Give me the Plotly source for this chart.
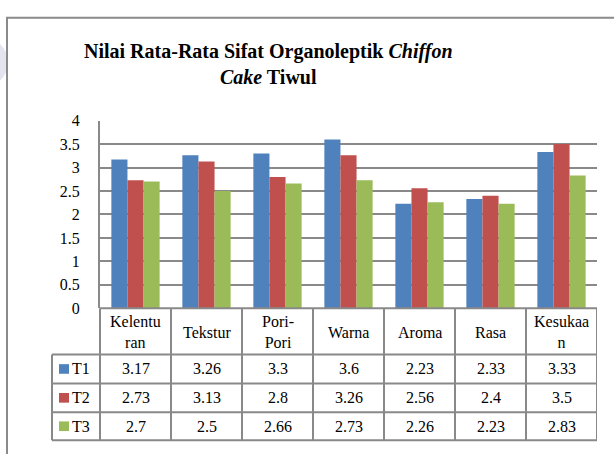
import plotly.graph_objects as go

categories = ["Kelenturan", "Tekstur", "Pori-Pori", "Warna", "Aroma", "Rasa", "Kesukaan"]
header_labels = ["Kelentu<br>ran", "Tekstur", "Pori-<br>Pori", "Warna", "Aroma", "Rasa", "Kesukaa<br>n"]
series_names = ["T1", "T2", "T3"]
t1 = [3.17, 3.26, 3.3, 3.6, 2.23, 2.33, 3.33]
t2 = [2.73, 3.13, 2.8, 3.26, 2.56, 2.4, 3.5]
t3 = [2.7, 2.5, 2.66, 2.73, 2.26, 2.23, 2.83]
series_values = [t1, t2, t3]
colors = ["#4F81BD", "#C0504D", "#9BBB59"]
y_ticks = [0, 0.5, 1, 1.5, 2, 2.5, 3, 3.5, 4]

W, H = 614, 454
def px(x):
    return x / W
def py(y):
    return 1 - y / H

FONT = "'Liberation Serif', 'Times New Roman', serif"
GRID = "#898989"

fig = go.Figure()
for name, vals, col in zip(series_names, series_values, colors):
    fig.add_trace(go.Bar(x=categories, y=vals, name=name, marker=dict(color=col, line=dict(width=0)),
                         showlegend=False))

plot_l, plot_r, plot_t, plot_b = 100, 597, 117, 312
tab_left = 52
row_lines = [312, 360, 390, 420, 449]

shapes = []
# outer frame (left & top)
shapes.append(dict(type="line", xref="paper", yref="paper", x0=px(7), x1=px(7), y0=py(10), y1=py(470),
                   line=dict(color="#8a8a8a", width=2)))
shapes.append(dict(type="line", xref="paper", yref="paper", x0=px(6), x1=px(640), y0=py(10), y1=py(10),
                   line=dict(color="#8a8a8a", width=2)))
# watermark circle
shapes.append(dict(type="circle", xref="paper", yref="paper", x0=px(-45), x1=px(8), y0=py(30), y1=py(83),
                   fillcolor="#e2e5ee", line=dict(width=0), layer="below"))
# table horizontal lines
for i, yy in enumerate(row_lines):
    x0 = plot_l if i == 0 else tab_left
    shapes.append(dict(type="line", xref="paper", yref="paper", x0=px(x0), x1=px(plot_r), y0=py(yy), y1=py(yy),
                       line=dict(color=GRID, width=2)))
# table vertical lines
shapes.append(dict(type="line", xref="paper", yref="paper", x0=px(tab_left), x1=px(tab_left),
                   y0=py(360), y1=py(449), line=dict(color=GRID, width=2)))
shapes.append(dict(type="line", xref="paper", yref="paper", x0=px(plot_l), x1=px(plot_l),
                   y0=py(312), y1=py(449), line=dict(color=GRID, width=2)))
for i in range(len(categories)):
    shapes.append(dict(type="line", xref="x", yref="paper", x0=i + 0.5, x1=i + 0.5,
                       y0=py(312), y1=py(449), line=dict(color=GRID, width=2)))

annotations = []
# title
annotations.append(dict(text="<b>Nilai Rata-Rata Sifat Organoleptik <i>Chiffon</i><br><i>Cake</i> Tiwul</b>",
                        x=px(268), y=py(58.5), xref="paper", yref="paper", xanchor="center", yanchor="middle",
                        showarrow=False, font=dict(family=FONT, size=20, color="black")))
# header row
for cat, lab in zip(categories, header_labels):
    annotations.append(dict(text=lab, x=cat, y=py(337), xref="x", yref="paper", xanchor="center",
                            yanchor="middle", showarrow=False, font=dict(family=FONT, size=16, color="black")))
# data rows
row_centers = [375, 405, 434.5]
for name, vals, col, yc in zip(series_names, series_values, colors, row_centers):
    shapes.append(dict(type="rect", xref="paper", yref="paper", x0=px(59), x1=px(69), y0=py(yc - 5), y1=py(yc + 5),
                       fillcolor=col, line=dict(width=0)))
    annotations.append(dict(text=name, x=px(70), y=py(yc), xref="paper", yref="paper", xanchor="left",
                            yanchor="middle", showarrow=False, font=dict(family=FONT, size=16, color="black")))
    for cat, v in zip(categories, vals):
        annotations.append(dict(text=str(v), x=cat, y=py(yc), xref="x", yref="paper", xanchor="center",
                                yanchor="middle", showarrow=False, font=dict(family=FONT, size=16, color="black")))

fig.update_layout(
    width=W, height=H,
    margin=dict(l=0, r=0, t=0, b=0),
    paper_bgcolor="white", plot_bgcolor="white",
    barmode="group", bargap=0.32, bargroupgap=0,
    showlegend=False,
    font=dict(family=FONT),
    shapes=shapes, annotations=annotations,
    xaxis=dict(domain=[px(plot_l), px(plot_r)], range=[-0.5, len(categories) - 0.5],
               showticklabels=False, showgrid=False, zeroline=False, showline=False, ticks=""),
    yaxis=dict(domain=[py(plot_b), py(plot_t)], range=[0, 4], tickvals=y_ticks,
               ticktext=[f"{v:g}" for v in y_ticks],
               showgrid=True, gridcolor=GRID, gridwidth=2, zeroline=False,
               showline=True, linecolor=GRID, linewidth=2, ticks="",
               ticklabelstandoff=15,
               tickfont=dict(family=FONT, size=16, color="black")),
)

post = ("document.documentElement.style.margin='0';document.documentElement.style.overflow='hidden';"
        "document.body.style.margin='0';document.body.style.overflow='hidden';"
        "var d=document.getElementById('{plot_id}');d.style.position='fixed';d.style.top='0';d.style.left='0';")
fig.write_html("out.html", config={"displayModeBar": False}, post_script=post)
